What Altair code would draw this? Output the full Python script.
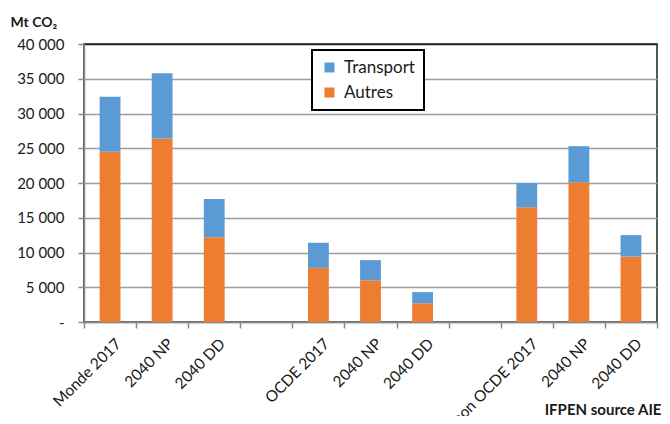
import json
import altair as alt
import pandas as pd

categories = ["Monde 2017", "2040 NP", "2040 DD", "", "OCDE 2017", "2040 NP", "2040 DD",
              "", "non OCDE 2017", "2040 NP", "2040 DD"]
autres = [24500, 26400, 12200, None, 7800, 6000, 2700, None, 16500, 20100, 9400]
transport = [7900, 9400, 5500, None, 3600, 2900, 1600, None, 3500, 5200, 3100]
series = ["Transport", "Autres"]
colors = ["#5B9BD5", "#ED7D31"]
y_ticks = [0, 5000, 10000, 15000, 20000, 25000, 30000, 35000, 40000]

rows = []
for i, (a, t) in enumerate(zip(autres, transport)):
    if a is None:
        continue
    rows.append({"slot": i, "serie": "Autres", "value": a, "ord": 0})
    rows.append({"slot": i, "serie": "Transport", "value": t, "ord": 1})
df = pd.DataFrame(rows)

FONT = "Lato"
label_expr = json.dumps(categories) + "[datum.value]"

chart = alt.Chart(df).mark_bar(width={"band": 0.4}).encode(
    x=alt.X(
        "slot:O",
        scale=alt.Scale(domain=list(range(len(categories))), paddingInner=0, paddingOuter=0),
        axis=alt.Axis(
            labelExpr=label_expr,
            labelAngle=-45,
            labelAlign="right",
            labelBaseline="top",
            labelPadding=8,
            labelOffset=3,
            labelFontSize=15.5,
            labelColor="#1a1a1a",
            labelFont=FONT,
            labelOverlap=False,
            tickBand="extent",
            tickSize=6,
            tickColor="#8a8a8a",
            tickWidth=1.5,
            domainColor="#8a8a8a",
            domainWidth=1.5,
            grid=False,
            title="IFPEN source AIE",
            titleFont=FONT,
            titleFontSize=15,
            titleFontWeight="bold",
            titleColor="#1a1a1a",
            titleAngle=0,
            titleAlign="right",
            titleBaseline="alphabetic",
            titleX=577,
            titleY=92,
        ),
    ),
    y=alt.Y(
        "value:Q",
        stack="zero",
        scale=alt.Scale(domain=[0, 40000], nice=False),
        axis=alt.Axis(
            values=y_ticks,
            labelExpr="datum.value == 0 ? '-' : replace(format(datum.value, ','), ',', ' ')",
            labelFontSize=15,
            labelFont=FONT,
            labelColor="#1a1a1a",
            labelPadding=14,
            tickSize=6,
            tickColor="#8a8a8a",
            tickWidth=1.5,
            domainColor="#8a8a8a",
            domainWidth=1.5,
            grid=True,
            gridColor=alt.condition("datum.value == 40000", alt.value("#222222"), alt.value("#9d9d9d")),
            gridWidth=1.5,
            title="Mt CO₂",
            titleFont=FONT,
            titleFontSize=14,
            titleFontWeight="bold",
            titleColor="#1a1a1a",
            titleAngle=0,
            titleAlign="left",
            titleBaseline="alphabetic",
            titleX=-74,
            titleY=-18,
        ),
    ),
    color=alt.Color(
        "serie:N",
        scale=alt.Scale(domain=series, range=colors),
        legend=alt.Legend(
            orient="none",
            legendX=228,
            legendY=6,
            title=None,
            strokeColor="black",
            fillColor="white",
            padding=9,
            symbolType="square",
            symbolSize=100,
            symbolStrokeWidth=0,
            labelFontSize=17,
            labelFont=FONT,
            labelColor="#1a1a1a",
            labelOffset=6,
            rowPadding=7,
        ),
    ),
    order=alt.Order("ord:Q"),
).properties(
    width=573,
    height=278,
    autosize=alt.AutoSizeParams(type="none"),
    padding={"left": 76, "top": 36, "right": 5, "bottom": 94},
    background="white",
).configure_view(
    stroke="#222222", strokeWidth=1.5
).configure_legend(
    strokeWidth=2
)

chart.save("out.html", embed_options={"renderer": "svg", "actions": False})
